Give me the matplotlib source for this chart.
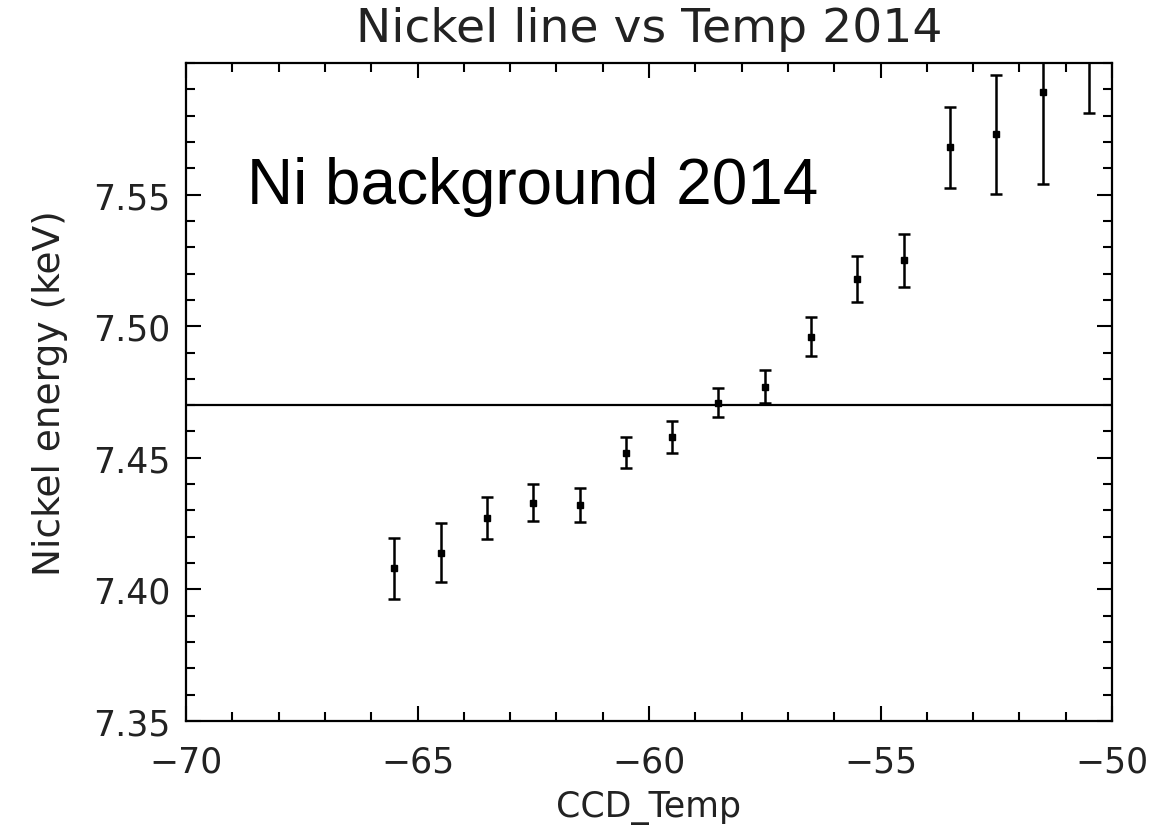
import matplotlib
matplotlib.use("Agg")
import matplotlib.pyplot as plt
from matplotlib.ticker import MultipleLocator

# CCD temperature bins and fitted Ni K-alpha line energies
ccd_temp = [-65.5, -64.5, -63.5, -62.5, -61.5, -60.5, -59.5, -58.5,
            -57.5, -56.5, -55.5, -54.5, -53.5, -52.5, -51.5, -50.5]
ni_energy = [7.408, 7.414, 7.427, 7.433, 7.432, 7.452, 7.458, 7.471,
             7.477, 7.496, 7.518, 7.525, 7.568, 7.573, 7.589, 7.612]
ni_err = [0.0116, 0.0113, 0.0080, 0.0070, 0.0065, 0.0060, 0.0060, 0.0056,
          0.0062, 0.0074, 0.0088, 0.0101, 0.0153, 0.0226, 0.0350, 0.0310]
reference_energy = 7.47

x_ticks = [-70, -65, -60, -55, -50]
y_ticks = [7.35, 7.40, 7.45, 7.50, 7.55]

fig = plt.figure(figsize=(11.73, 8.37), dpi=100)
ax = fig.add_axes([0.1586, 0.1374, 0.7894, 0.7861])

ax.errorbar(ccd_temp, ni_energy, yerr=ni_err, fmt="s", color="black",
            markersize=5, elinewidth=1.8, capsize=4, capthick=1.8)
ax.axhline(reference_energy, color="black", linewidth=1.6)

ax.set_xlim(-70, -50)
ax.set_ylim(7.35, 7.60)
ax.set_xticks(x_ticks)
ax.set_yticks(y_ticks)
ax.set_xticklabels([f"\u2212{abs(v)}" for v in x_ticks])
ax.set_yticklabels([f"{v:.2f}" for v in y_ticks])
ax.xaxis.set_minor_locator(MultipleLocator(1))
ax.yaxis.set_minor_locator(MultipleLocator(0.01))

ax.tick_params(which="both", direction="in", top=True, right=True,
               width=1.5, colors="black", labelsize=25)
ax.tick_params(which="both", labelcolor="#222222")
ax.tick_params(which="major", length=11)
ax.tick_params(which="minor", length=6.5)
ax.tick_params(axis="x", pad=17)
ax.tick_params(axis="y", pad=11)
for s in ax.spines.values():
    s.set_linewidth(1.6)

ax.set_title("Nickel line vs Temp 2014", fontsize=34, pad=16, color="#222222")
ax.set_xlabel("CCD_Temp", fontsize=25, labelpad=8, color="#222222")
ax.set_ylabel("Nickel energy (keV)", fontsize=27, labelpad=18, color="#222222")

fig.text(247 / 1173, 1 - 204 / 837, "Ni background 2014",
         family="Liberation Sans", fontsize=46, va="baseline", ha="left")

fig.savefig("out.png", dpi=100)
